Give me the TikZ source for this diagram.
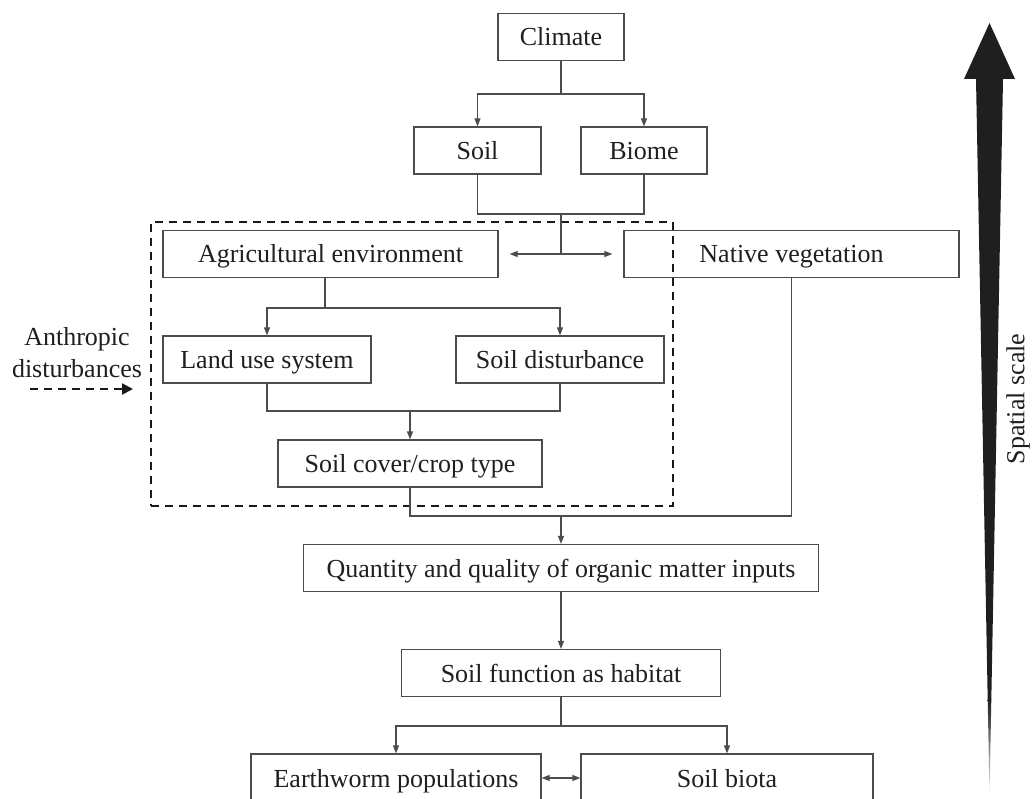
\documentclass[tikz,border=0pt]{standalone}
\usepackage{fontspec}
\setmainfont{Liberation Serif}
\usetikzlibrary{arrows.meta}
\begin{document}
\begin{tikzpicture}[x=1pt,y=-1pt,
  txt/.style={text=black!88, font=\fontsize{26}{32}\selectfont},
  box/.style={txt, draw=black!70, line width=1.2pt, inner sep=0pt, minimum height=47pt, text height=21pt, text depth=3pt},
  conn/.style={draw=black!70, line width=1.2pt},
  arr/.style={conn, -{Triangle[length=8pt,width=6pt]}},
  darr/.style={conn, {Triangle[length=8pt,width=6pt]}-{Triangle[length=8pt,width=6pt]}},
  dashline/.style={draw=black!90, line width=2.2pt, dash pattern=on 8pt off 6pt},
]
\useasboundingbox (0,0) rectangle (1035,799);
\clip (0,0) rectangle (1035,799);

% group of anthropic disturbances
\node[dashline, inner sep=0pt, minimum width=522pt, minimum height=284pt] (group) at (412,364) {};

% boxes
\node[box, minimum width=126pt] (climate) at (561,37) {Climate};
\node[box, minimum width=127pt] (soil) at (477.5,150.5) {Soil};
\node[box, minimum width=126pt] (biome) at (644,150.5) {Biome};
\node[box, minimum width=335pt] (agri) at (330.5,254) {Agricultural environment};
\node[box, minimum width=335pt] (native) at (791.5,254) {Native vegetation};
\node[box, minimum width=208pt] (landuse) at (267,359.5) {Land use system};
\node[box, minimum width=208pt] (soildist) at (560,359.5) {Soil disturbance};
\node[box, minimum width=264pt] (cover) at (410,463.5) {Soil cover/crop type};
\node[box, minimum width=515pt] (quantity) at (561,568) {Quantity and quality of organic matter inputs};
\node[box, minimum width=319pt] (habitat) at (561,673) {Soil function as habitat};
\node[box, minimum width=290pt, minimum height=48pt] (earth) at (396,778) {Earthworm populations};
\node[box, minimum width=292pt, minimum height=48pt] (biota) at (727,778) {Soil biota};

% junctions
\coordinate (j1) at (561,94);
\coordinate (j2) at (561,214);
\coordinate (j3) at (561,254);
\coordinate (j4) at (325,308);
\coordinate (j5) at (410,411);
\coordinate (j6) at (561,516);
\coordinate (j7) at (561,726);

% connectors
\draw[conn] (climate.south) -- (j1);
\draw[arr] (j1) -| (soil.north);
\draw[arr] (j1) -| (biome.north);
\draw[conn] (soil.south) |- (j2) -| (biome.south);
\draw[conn] (j2) -- (j3);
\draw[arr, shorten >=11pt] (j3) -- (agri.east);
\draw[arr, shorten >=11pt] (j3) -- (native.west);
\draw[conn] (agri.south -| j4) -- (j4);
\draw[arr] (j4) -| (landuse.north);
\draw[arr] (j4) -| (soildist.north);
\draw[conn] (landuse.south) |- (j5) -| (soildist.south);
\draw[arr] (j5) -- (cover.north);
\draw[conn] (cover.south) |- (j6) -| (native.south);
\draw[arr] (j6) -- (quantity.north);
\draw[arr] (quantity.south) -- (habitat.north);
\draw[conn] (habitat.south) -- (j7);
\draw[arr] (j7) -| (earth.north);
\draw[arr] (j7) -| (biota.north);
\draw[darr] (earth.east) -- (biota.west);

% anthropic disturbances
\node[txt, align=center, inner sep=0pt] (anth) at (77,353) {Anthropic\\disturbances};
\coordinate (a1) at (30,389);
\coordinate (a2) at (133,389);
\draw[dashline, -{Triangle[length=11pt,width=11pt]}] (a1) -- (a2);

% spatial scale arrow
\fill[black!88] (989.5,23) -- (1015,79) -- (1003,79) -- (991.3,700) -- (987.7,700) -- (976,79) -- (964,79) -- cycle;
\shade[top color=black!88, bottom color=black!8] (987.7,699.5) -- (991.3,699.5) -- (989.5,795) -- cycle;
\node[txt, rotate=90, inner sep=0pt] (scale) at (1018,399) {Spatial scale};
\end{tikzpicture}
\end{document}
